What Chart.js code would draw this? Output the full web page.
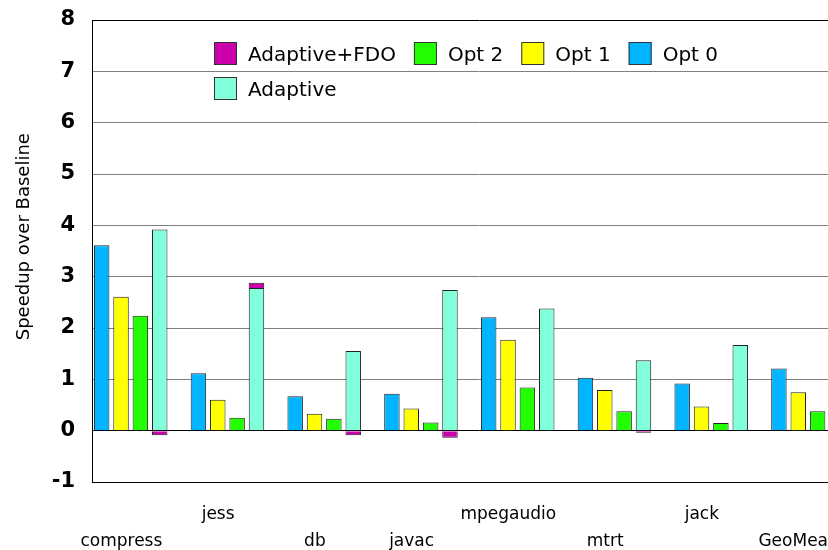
<!DOCTYPE html>
<html lang="en">
<head>
    <meta charset="UTF-8">
    <title>Speedup over Baseline</title>
    <script src="https://cdn.jsdelivr.net/npm/chart.js"></script>
    <style>
        body { margin: 0; background: #fff; }
        #wrap { width: 828px; height: 550px; overflow: hidden; }
    </style>
</head>
<body>
    <div id="wrap"><canvas id="speedChart" width="880" height="550"></canvas></div>

    <script>
        // benchmarks and speedups
        const categories = ['compress', 'jess', 'db', 'javac', 'mpegaudio', 'mtrt', 'jack', 'GeoMean'];
        // 0 = upper label row, 1 = lower label row
        const labelRow = [1, 0, 1, 1, 0, 1, 0, 1];
        const opt0 = [3.61, 1.12, 0.67, 0.72, 2.21, 1.03, 0.92, 1.21];
        const opt1 = [2.61, 0.60, 0.33, 0.43, 1.77, 0.79, 0.47, 0.75];
        const opt2 = [2.24, 0.25, 0.23, 0.16, 0.84, 0.38, 0.15, 0.38];
        const adaptive = [3.92, 2.78, 1.55, 2.74, 2.38, 1.37, 1.67, 2.21];
        // extra gained by FDO, stacked on top of Adaptive
        const adaptiveFdo = [-0.09, 0.10, -0.09, -0.14, 0, -0.04, 0, -0.04];
        const yTicks = [-1, 0, 1, 2, 3, 4, 5, 6, 7, 8];

        const FONT = '"DejaVu Sans", sans-serif';
        const black = '#000';

        const xLabels = categories.map((c, i) => labelRow[i] ? ['', c] : c);

        const bar = (label, data, color, stack) => ({
            label: label, data: data, stack: stack,
            backgroundColor: color, borderColor: '#222', borderWidth: 1
        });

        const datasets = [
            bar('Opt 0', opt0, '#00b4ff', 'a'),
            bar('Opt 1', opt1, '#ffff00', 'b'),
            bar('Opt 2', opt2, '#22ff00', 'c'),
            bar('Adaptive', adaptive, '#80ffda', 'd'),
            bar('Adaptive+FDO', adaptiveFdo, '#cc00aa', 'd'),
            // empty slot so each group sits left in its category
            { label: '', data: categories.map(() => null), stack: 'e' }
        ];

        const legendOrder = ['Adaptive+FDO', 'Opt 2', 'Opt 1', 'Opt 0', 'Adaptive'];

        // legend drawn inside the plot, wrapping to a second row
        const innerLegend = {
            id: 'innerLegend',
            afterDatasetsDraw(chart) {
                const ctx = chart.ctx;
                const box = 23, gap = 11, itemGap = 18, rowH = 35;
                const x0 = chart.chartArea.left + 122, maxRight = x0 + 520;
                let x = x0, y = chart.chartArea.top + 22;
                ctx.save();
                ctx.font = '20px ' + FONT;
                ctx.textBaseline = 'middle';
                legendOrder.forEach(name => {
                    const ds = chart.data.datasets.find(d => d.label === name);
                    const w = box + gap + ctx.measureText(name).width;
                    if (x + w > maxRight) { x = x0; y += rowH; }
                    ctx.fillStyle = ds.backgroundColor;
                    ctx.fillRect(x, y, box, box);
                    ctx.strokeStyle = '#333';
                    ctx.lineWidth = 1;
                    ctx.strokeRect(x + 0.5, y + 0.5, box - 1, box - 1);
                    ctx.fillStyle = black;
                    ctx.fillText(name, x + box + gap, y + box / 2 + 2);
                    x += w + itemGap;
                });
                ctx.restore();
            }
        };

        const ctx = document.getElementById('speedChart').getContext('2d');
        const speedChart = new Chart(ctx, {
            type: 'bar',
            data: { labels: xLabels, datasets: datasets },
            plugins: [innerLegend],
            options: {
                responsive: false,
                animation: false,
                categoryPercentage: 1.0,
                barPercentage: 0.8,
                layout: { padding: { top: 20, right: 14, left: 0, bottom: 0 } },
                plugins: {
                    legend: { display: false },
                    tooltip: { enabled: false }
                },
                scales: {
                    x: {
                        stacked: true,
                        grid: { display: false },
                        border: { display: true, color: black },
                        ticks: {
                            color: black,
                            font: { family: FONT, size: 17, lineHeight: 1.6 },
                            padding: 11,
                            labelOffset: -19,
                            maxRotation: 0,
                            autoSkip: false
                        },
                        afterFit: s => { s.height = 68; }
                    },
                    y: {
                        stacked: true,
                        min: yTicks[0],
                        max: yTicks[yTicks.length - 1],
                        afterBuildTicks: s => { s.ticks = yTicks.map(v => ({ value: v })); },
                        ticks: {
                            color: black,
                            font: { family: FONT, size: 21, weight: 'bold' },
                            padding: 17
                        },
                        grid: {
                            drawTicks: false,
                            lineWidth: 1,
                            color: c => (c.tick && [0, -1, 8].includes(c.tick.value)) ? black : '#7f7f7f'
                        },
                        border: { display: true, color: black },
                        title: {
                            display: true,
                            text: '\u00a0\u00a0\u00a0\u00a0\u00a0Speedup over Baseline',
                            color: black,
                            font: { family: FONT, size: 18 },
                            padding: { top: 14, bottom: 0 }
                        },
                        afterFit: s => {
                            s.width = 92;
                            s.paddingTop = 10;
                            s.paddingBottom = 10;
                        }
                    }
                }
            }
        });
    </script>
</body>
</html>
